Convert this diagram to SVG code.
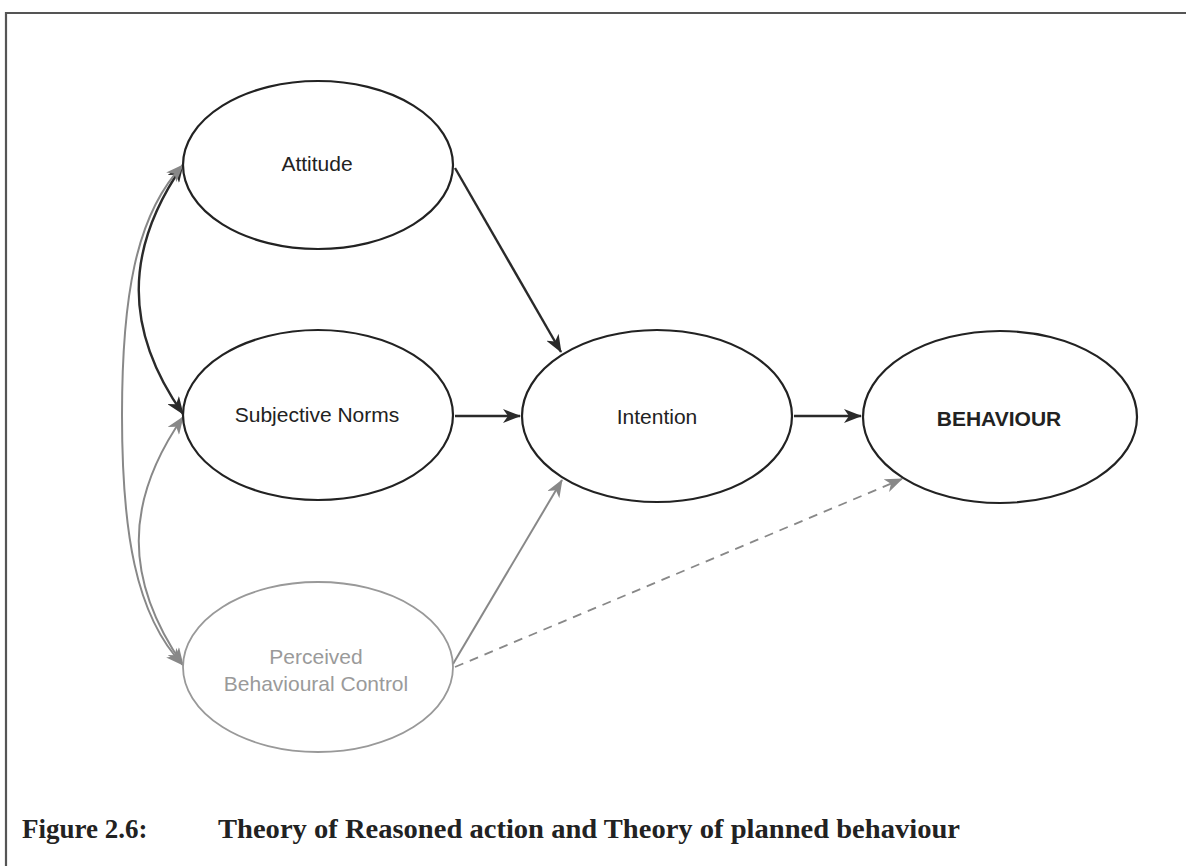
<svg xmlns="http://www.w3.org/2000/svg" width="1186" height="866" viewBox="0 0 1186 866">
<style>
.node{fill:#fff;stroke:#222;stroke-width:2.2}
.node.light{stroke:#999;stroke-width:1.8}
.lbl{font-family:"Liberation Sans",Arial,sans-serif;font-size:21px;fill:#222;text-anchor:middle}
.lbl.light{fill:#9a9a9a}
.lbl.bold{font-weight:bold}
.dark{fill:none;stroke:#2a2a2a;stroke-width:2.4}
.gray{fill:none;stroke:#888;stroke-width:2}
.dash{fill:none;stroke:#888;stroke-width:1.8;stroke-dasharray:9,7}
.cap{font-family:"Liberation Serif","Times New Roman",serif;font-weight:bold;font-size:27px;fill:#222}
</style>
<defs>
<marker id="ad" viewBox="0 0 18 14" refX="17" refY="7" markerWidth="18" markerHeight="14" markerUnits="userSpaceOnUse" orient="auto-start-reverse">
<path d="M0,0 L18,7 L0,14 L5,7 z" fill="#2a2a2a"/>
</marker>
<marker id="ag" viewBox="0 0 18 14" refX="17" refY="7" markerWidth="18" markerHeight="14" markerUnits="userSpaceOnUse" orient="auto-start-reverse">
<path d="M0,0 L18,7 L0,14 L5,7 z" fill="#888"/>
</marker>
</defs>
<rect width="1186" height="866" fill="#fff"/>
<g id="frame">
<line x1="5" y1="13" x2="1186" y2="13" stroke="#555" stroke-width="2.2"/>
<line x1="6" y1="12" x2="6" y2="866" stroke="#555" stroke-width="2.2"/>
</g>
<g id="connectors">
<path class="dark" d="M455,168 L561,352" marker-end="url(#ad)"/>
<path class="dark" d="M455,416 L520,416" marker-end="url(#ad)"/>
<path class="dark" d="M794,416 L861,416" marker-end="url(#ad)"/>
<path class="gray" d="M453,664 L562,480" marker-end="url(#ag)"/>
<path class="dash" d="M455,667 L902,479" marker-end="url(#ag)"/>
<path class="dark" d="M183,165 C124,250 124,330 183,414" marker-start="url(#ad)" marker-end="url(#ad)"/>
<path class="gray" d="M183,417 C124,502 124,580 183,665" marker-start="url(#ag)" marker-end="url(#ag)"/>
<path class="gray" d="M183,165 C135,215 122,300 122,415 C122,530 135,615 183,665" marker-start="url(#ag)" marker-end="url(#ag)"/>
</g>
<g id="attitude">
<ellipse class="node" cx="318" cy="165" rx="135" ry="84"/>
<text class="lbl" x="317" y="171">Attitude</text>
</g>
<g id="subjective-norms">
<ellipse class="node" cx="318" cy="415" rx="135" ry="85"/>
<text class="lbl" x="317" y="422">Subjective Norms</text>
</g>
<g id="pbc">
<ellipse class="node light" cx="318" cy="667" rx="135" ry="85"/>
<text class="lbl light" x="316" y="664">Perceived</text>
<text class="lbl light" x="316" y="691">Behavioural Control</text>
</g>
<g id="intention">
<ellipse class="node" cx="657" cy="416" rx="135" ry="86"/>
<text class="lbl" x="657" y="424">Intention</text>
</g>
<g id="behaviour">
<ellipse class="node" cx="1000" cy="417" rx="137" ry="86"/>
<text class="lbl bold" x="999" y="426">BEHAVIOUR</text>
</g>
<g id="caption">
<text class="cap" x="22" y="838">Figure 2.6:</text>
<text class="cap" x="218" y="838" textLength="742" lengthAdjust="spacingAndGlyphs">Theory of Reasoned action and Theory of planned behaviour</text>
</g>
</svg>
